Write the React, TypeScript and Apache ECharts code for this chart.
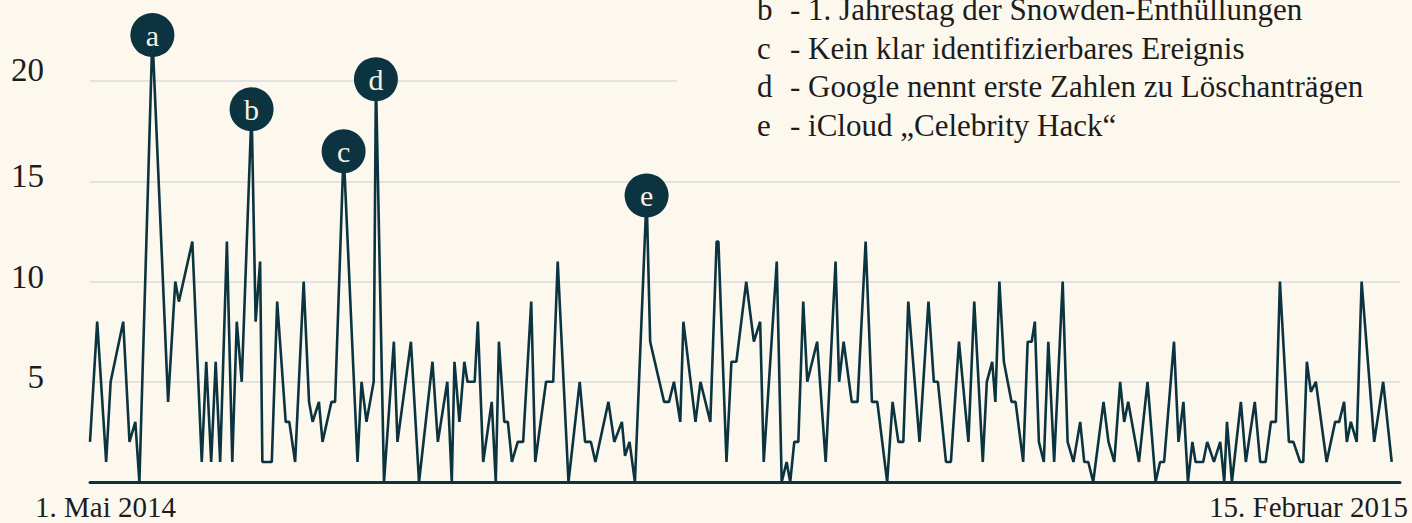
import React, { useEffect, useRef } from "react";
import * as echarts from "echarts";

// Day offset from 1 May 2014 (position along the time axis) and value of each vertex
const dayOffsets = [
  0.0, 1.6, 3.6, 4.6, 7.4, 8.8, 10.1, 11.0, 13.9, 17.4,
  19.0, 19.8, 22.8, 24.9, 25.9, 27.0, 28.0, 29.0, 30.5, 31.7,
  32.7, 33.8, 36.0, 36.9, 37.9, 38.4, 40.5, 41.7, 43.6, 44.4,
  45.7, 47.6, 48.8, 49.6, 51.0, 51.8, 53.8, 54.6, 56.5, 59.6,
  60.5, 61.6, 63.2, 63.7, 65.5, 67.7, 68.5, 71.5, 73.3, 76.3,
  77.5, 79.6, 80.6, 81.2, 82.3, 83.4, 84.1, 85.7, 86.4, 87.6,
  89.5, 90.4, 91.1, 92.3, 93.1, 94.0, 95.3, 96.5, 98.3, 99.2,
  101.6, 103.2, 104.2, 106.6, 109.1, 110.3, 111.6, 112.6, 115.5, 116.8,
  118.5, 119.2, 120.2, 121.4, 124.0, 124.8, 127.9, 129.0, 130.1, 131.5,
  132.2, 134.9, 136.0, 138.2, 139.6, 140.0, 141.8, 142.9, 144.0, 146.2,
  147.9, 149.3, 150.1, 153.0, 154.1, 155.2, 156.0, 156.9, 157.8, 158.9,
  159.8, 162.0, 163.9, 166.1, 166.9, 167.9, 169.7, 171.0, 172.8, 174.2,
  175.4, 177.6, 178.8, 180.1, 181.2, 182.3, 184.8, 186.8, 188.0, 188.9,
  190.7, 191.8, 193.6, 195.7, 197.0, 198.9, 199.8, 201.0, 201.7, 202.6,
  203.6, 205.3, 206.2, 207.9, 208.9, 209.8, 210.5, 211.4, 212.5, 213.5,
  214.8, 216.7, 217.8, 219.1, 220.6, 221.5, 222.4, 223.5, 225.8, 226.9,
  228.2, 229.5, 230.4, 231.3, 233.7, 235.6, 237.4, 238.4, 239.3, 241.5,
  242.5, 243.6, 244.6, 245.6, 246.3, 248.0, 248.9, 250.4, 251.8, 252.7,
  253.3, 254.4, 256.4, 257.5, 259.5, 260.7, 261.9, 263.1, 264.2, 265.1,
  267.1, 268.1, 269.6, 270.3, 271.1, 272.0, 273.1, 275.5, 277.4, 278.3,
  279.4, 280.0, 280.9, 282.2, 283.3, 286.1, 288.1, 290.0,
];

const counts = [
  2, 8, 1, 5, 8, 2, 3, 0, 22.3, 4,
  10, 9, 12, 1, 6, 1, 6, 1, 12, 1,
  8, 5, 18.6, 8, 11, 1, 1, 9, 3, 3,
  1, 10, 4, 3, 4, 2, 4, 4, 16.5, 1,
  5, 3, 5, 20.1, 0, 7, 2, 7, 0, 6,
  2, 5, 0, 6, 3, 6, 5, 5, 8, 1,
  4, 0, 7, 3, 3, 1, 2, 2, 9, 1,
  5, 5, 11, 0, 5, 2, 2, 1, 4, 2,
  3, 1.3, 2, 0, 14.3, 7, 4, 4, 5, 3,
  8, 3, 5, 3, 12, 12, 1, 6, 6, 10,
  7, 8, 1, 11, 0, 1, 0, 2, 2, 9,
  5, 7, 1, 11, 5, 7, 4, 4, 12, 4,
  4, 0, 4, 2, 2, 9, 2, 9, 5, 5,
  1, 1, 7, 2, 9, 1, 5, 6, 4, 10,
  6, 4, 4, 1, 7, 7, 8, 2, 1, 7,
  1, 10, 2, 1, 3, 1, 1, 0, 4, 2,
  1, 5, 3, 4, 1, 5, 0, 1, 1, 7,
  2, 4, 0, 2, 1, 1, 2, 1, 2, 0,
  3, 0, 4, 1, 4, 1, 1, 3, 3, 10,
  2, 2, 1, 1, 6, 4.5, 5, 1, 3, 3,
  4, 2, 3, 2, 10, 2, 5, 1,
];

const annotationLetters = ["a", "b", "c", "d", "e"];
const annotationIndices = [8, 22, 38, 43, 84];

const noteLetters = ["b", "c", "d", "e"];
const noteTexts = [
  "1. Jahrestag der Snowden-Enthüllungen",
  "Kein klar identifizierbares Ereignis",
  "Google nennt erste Zahlen zu Löschanträgen",
  "iCloud „Celebrity Hack“",
];

const dateLabels = ["1. Mai 2014", "15. Februar 2015"];
const yTickValues = [5, 10, 15, 20];
const fullGridValues = [5, 10, 15];
const partialGridValue = 20;
const partialGridEndDay = 130.8;
const xMaxDay = 291.85;

const BG = "#fdf8ee";
const INK = "#0b3440";
const CREAM = "#f7f0e3";
const TEXT = "#1c1c1c";
const GRID = "#e5e3df";
const SERIF = '"Liberation Serif", "Times New Roman", serif';

export default function App() {
  const ref = useRef<HTMLDivElement>(null);

  useEffect(() => {
    document.body.style.margin = "0";
    const chart = echarts.init(ref.current as HTMLDivElement, null, { renderer: "svg" });
    const lineData = dayOffsets.map((d, i) => [d, counts[i]]);

    const graphic: any[] = [];
    noteLetters.forEach((l, i) => {
      const y = 9.5 + i * 38.5;
      graphic.push({
        type: "text",
        x: 757,
        y,
        style: { text: l, font: `31px ${SERIF}`, fill: TEXT, verticalAlign: "middle", align: "left" },
      });
      graphic.push({
        type: "text",
        x: 790,
        y,
        style: { text: "- " + noteTexts[i], font: `31px ${SERIF}`, fill: TEXT, verticalAlign: "middle", align: "left" },
      });
    });
    graphic.push({
      type: "text",
      x: 35,
      y: 507,
      style: { text: dateLabels[0], font: `29px ${SERIF}`, fill: TEXT, verticalAlign: "middle", align: "left" },
    });
    graphic.push({
      type: "text",
      x: 1408,
      y: 507,
      style: { text: dateLabels[1], font: `29px ${SERIF}`, fill: TEXT, verticalAlign: "middle", align: "right" },
    });

    const option: any = {
      animation: false,
      backgroundColor: BG,
      grid: { left: 90, right: 12, top: 1, bottom: 41, containLabel: false, outerBoundsMode: "none" },
      xAxis: {
        type: "value",
        min: 0,
        max: xMaxDay,
        axisLine: { show: true, onZero: true, lineStyle: { color: INK, width: 3 } },
        axisTick: { show: false },
        axisLabel: { show: false },
        splitLine: { show: false },
      },
      yAxis: {
        type: "value",
        min: 0,
        max: 24,
        interval: 5,
        axisLine: { show: false },
        axisTick: { show: false },
        splitLine: { show: false },
        axisLabel: {
          margin: 46,
          align: "right",
          formatter: (v: number) =>
            yTickValues.indexOf(v) >= 0 ? (v === 20 ? `{hi|${v}}` : `{n|${v}}`) : "",
          rich: {
            n: { fontFamily: SERIF, fontSize: 33, color: TEXT, padding: [0, 0, 10, 0] },
            hi: { fontFamily: SERIF, fontSize: 33, color: TEXT, padding: [0, 0, 23, 0] },
          },
        },
      },
      series: [
        {
          type: "line",
          data: lineData,
          z: 1,
          silent: true,
          showSymbol: false,
          lineStyle: { opacity: 0 },
          markLine: {
            silent: true,
            z: 1,
            symbol: ["none", "none"],
            label: { show: false },
            lineStyle: { color: GRID, width: 2, type: "solid" },
            data: [
              ...fullGridValues.map((v) => ({ yAxis: v })),
              [{ coord: [0, partialGridValue] }, { coord: [partialGridEndDay, partialGridValue] }],
            ],
          },
        },
        {
          type: "line",
          data: lineData,
          z: 3,
          showSymbol: false,
          symbol: "none",
          lineStyle: { color: INK, width: 2.6 },
          markPoint: {
            symbol: "circle",
            symbolSize: 44,
            itemStyle: { color: INK },
            label: {
              show: true,
              formatter: (p: any) => p.name,
              fontFamily: SERIF,
              fontSize: 30,
              color: CREAM,
            },
            data: annotationIndices.map((idx, i) => ({
              name: annotationLetters[i],
              coord: lineData[idx],
            })),
          },
        },
      ],
      graphic,
    };

    chart.setOption(option);
    return () => chart.dispose();
  }, []);

  return (
    <div
      ref={ref}
      style={{ position: "absolute", left: 0, top: 0, width: 1412, height: 523, background: BG }}
    />
  );
}
